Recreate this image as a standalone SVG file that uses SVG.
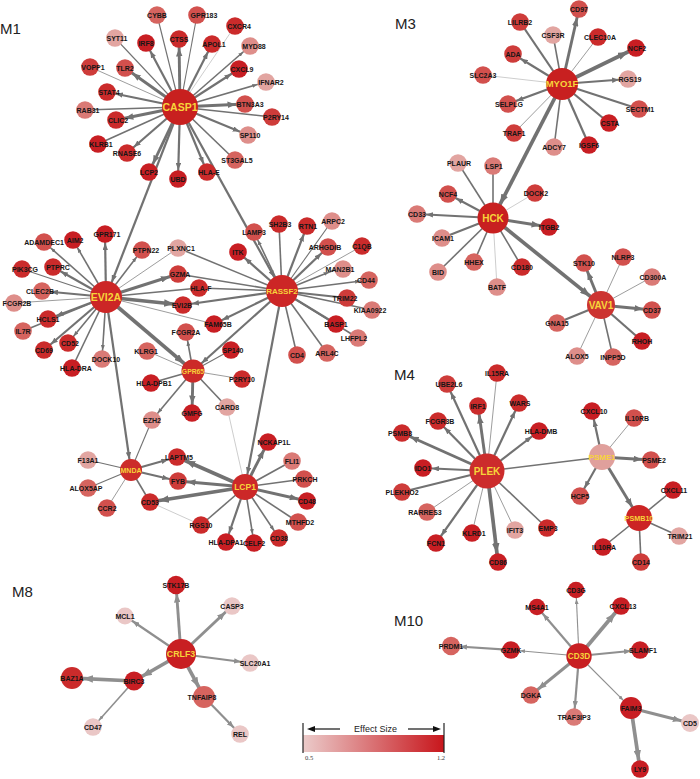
<svg xmlns="http://www.w3.org/2000/svg" width="700" height="779" viewBox="0 0 700 779">
<style>
.e{stroke:#727272;fill:none}
.g{stroke:#8f8f8f}
.lt{stroke:#b8b8b8}
.w1{stroke-width:.7}.w2{stroke-width:1.1}.w3{stroke-width:1.6}.w4{stroke-width:2.2}.w5{stroke-width:2.9}.w6{stroke-width:3.7}
.ma{marker-end:url(#aS)}.mb{marker-end:url(#aM)}.mc{marker-end:url(#aL)}.md{marker-end:url(#aX)}
.na{marker-end:url(#bS)}.nb{marker-end:url(#bM)}.nc{marker-end:url(#bL)}.nd{marker-end:url(#bX)}
.l{font-family:"Liberation Sans",Arial,sans-serif;font-weight:bold;font-size:7px;text-anchor:middle;fill:#161616}
.h{font-family:"Liberation Sans",Arial,sans-serif;font-weight:bold;text-anchor:middle;fill:#f7d43a}
.m{font-family:"Liberation Sans",Arial,sans-serif;font-size:15px;fill:#222}
.c1{fill:#c81e23}.c2{fill:#cb2b2b}.c3{fill:#ce3c3a}.c4{fill:#d2504d}.c5{fill:#d6645f}.c6{fill:#da7a76}.c7{fill:#de8e8a}.c8{fill:#e2a5a1}.c9{fill:#eac7c6}
</style>
<defs>
<marker id="aS" viewBox="0 0 5 4" markerWidth="5" markerHeight="4" refX="14" refY="2" orient="auto" markerUnits="userSpaceOnUse"><path d="M0,0L5,2L0,4z" fill="#727272"/></marker>
<marker id="aM" viewBox="0 0 7 5.4" markerWidth="7" markerHeight="5.4" refX="16" refY="2.7" orient="auto" markerUnits="userSpaceOnUse"><path d="M0,0L7,2.7L0,5.4z" fill="#727272"/></marker>
<marker id="aL" viewBox="0 0 8.5 6.6" markerWidth="8.5" markerHeight="6.6" refX="17.5" refY="3.3" orient="auto" markerUnits="userSpaceOnUse"><path d="M0,0L8.5,3.3L0,6.6z" fill="#727272"/></marker>
<marker id="aX" viewBox="0 0 10 7.6" markerWidth="10" markerHeight="7.6" refX="19" refY="3.8" orient="auto" markerUnits="userSpaceOnUse"><path d="M0,0L10,3.8L0,7.6z" fill="#727272"/></marker>
<marker id="bS" viewBox="0 0 5 4" markerWidth="5" markerHeight="4" refX="14" refY="2" orient="auto" markerUnits="userSpaceOnUse"><path d="M0,0L5,2L0,4z" fill="#8f8f8f"/></marker>
<marker id="bM" viewBox="0 0 7 5.4" markerWidth="7" markerHeight="5.4" refX="16" refY="2.7" orient="auto" markerUnits="userSpaceOnUse"><path d="M0,0L7,2.7L0,5.4z" fill="#8f8f8f"/></marker>
<marker id="bL" viewBox="0 0 8.5 6.6" markerWidth="8.5" markerHeight="6.6" refX="17.5" refY="3.3" orient="auto" markerUnits="userSpaceOnUse"><path d="M0,0L8.5,3.3L0,6.6z" fill="#8f8f8f"/></marker>
<marker id="bX" viewBox="0 0 10 7.6" markerWidth="10" markerHeight="7.6" refX="19" refY="3.8" orient="auto" markerUnits="userSpaceOnUse"><path d="M0,0L10,3.8L0,7.6z" fill="#8f8f8f"/></marker>
<linearGradient id="grad" x1="0" y1="0" x2="1" y2="0"><stop offset="0" stop-color="#ebcbca"/><stop offset="1" stop-color="#c8161c"/></linearGradient>
</defs>
<rect width="700" height="779" fill="#fff"/>
<g id="titles">
<text class="m" x="0" y="34">M1</text>
<text class="m" x="395" y="29">M3</text>
<text class="m" x="394" y="380">M4</text>
<text class="m" x="12" y="597">M8</text>
<text class="m" x="394" y="626">M10</text>
</g>
<g id="connectors">
<!-- CASP1 -->
<line class="e w2" x1="180" y1="107" x2="157" y2="15"/>
<line class="e w2" x1="180" y1="107" x2="197" y2="15"/>
<line class="e lt w1" x1="180" y1="107" x2="235" y2="26"/>
<line class="e w2" x1="180" y1="107" x2="115" y2="38"/>
<line class="e w4 mb" x1="180" y1="107" x2="146" y2="43"/>
<line class="e w5 mc" x1="180" y1="107" x2="179" y2="39"/>
<line class="e w4 mb" x1="180" y1="107" x2="212" y2="44"/>
<line class="e w3 ma" x1="180" y1="107" x2="250" y2="46"/>
<line class="e w1" x1="180" y1="107" x2="90" y2="67"/>
<line class="e w5 mc" x1="180" y1="107" x2="125" y2="68"/>
<line class="e w4 mb" x1="180" y1="107" x2="239" y2="69"/>
<line class="e w3 ma" x1="180" y1="107" x2="266" y2="82"/>
<line class="e w4 mb" x1="180" y1="107" x2="107" y2="92"/>
<line class="e w5 mc" x1="180" y1="107" x2="245" y2="104"/>
<line class="e w3" x1="180" y1="107" x2="85" y2="110"/>
<line class="e w5 mc" x1="180" y1="107" x2="116" y2="120"/>
<line class="e w3" x1="180" y1="107" x2="272" y2="117"/>
<line class="e w4 mb" x1="180" y1="107" x2="248" y2="135"/>
<line class="e w3" x1="180" y1="107" x2="98" y2="144"/>
<line class="e w4 mb" x1="180" y1="107" x2="127" y2="153"/>
<line class="e w3" x1="180" y1="107" x2="235" y2="160"/>
<line class="e w5 mc" x1="180" y1="107" x2="149" y2="172"/>
<line class="e w4 mb" x1="180" y1="107" x2="178" y2="179"/>
<line class="e w4 mb" x1="180" y1="107" x2="207" y2="172"/>
<line class="e w4 mb" x1="180" y1="107" x2="108.5" y2="290.5"/>
<line class="e w4 mb" x1="180" y1="107" x2="278.6" y2="284.9"/>
<!-- EVI2A -->
<line class="e w3 ma" x1="106" y1="297" x2="44" y2="242"/>
<line class="e w3 ma" x1="106" y1="297" x2="73" y2="240"/>
<line class="e w4 mb" x1="106" y1="297" x2="105" y2="234"/>
<line class="e w3 ma" x1="106" y1="297" x2="142" y2="250"/>
<line class="e w1" x1="106" y1="297" x2="178" y2="248"/>
<line class="e w2" x1="106" y1="297" x2="22" y2="269"/>
<line class="e w4 mb" x1="106" y1="297" x2="53" y2="267"/>
<line class="e w5 mc" x1="106" y1="297" x2="178" y2="274"/>
<line class="e w4 mb" x1="106" y1="297" x2="42" y2="291"/>
<line class="e w1" x1="106" y1="297" x2="14" y2="303"/>
<line class="e w3" x1="106" y1="297" x2="199" y2="288"/>
<line class="e w6 md" x1="106" y1="297" x2="183" y2="305"/>
<line class="e w1" x1="106" y1="297" x2="214" y2="324"/>
<line class="e w4 mb" x1="106" y1="297" x2="48" y2="319"/>
<line class="e w3" x1="106" y1="297" x2="23" y2="331"/>
<line class="e w3 ma" x1="106" y1="297" x2="68" y2="343"/>
<line class="e w4 mb" x1="106" y1="297" x2="44" y2="350"/>
<line class="e w3 ma" x1="106" y1="297" x2="102" y2="359"/>
<line class="e w3" x1="106" y1="297" x2="72" y2="368"/>
<line class="e w6 md" x1="106" y1="297" x2="191.1" y2="369.4"/>
<line class="e w4 mb" x1="106" y1="297" x2="130.7" y2="468"/>
<!-- RASSF2 -->
<line class="e w3 ma" x1="282" y1="291" x2="254" y2="232"/>
<line class="e w3" x1="282" y1="291" x2="279" y2="224"/>
<line class="e w4 mb" x1="282" y1="291" x2="307" y2="226"/>
<line class="e w2" x1="282" y1="291" x2="332" y2="221"/>
<line class="e w4 mb" x1="282" y1="291" x2="238" y2="252"/>
<line class="e w4 mb" x1="282" y1="291" x2="328" y2="247"/>
<line class="e w1" x1="282" y1="291" x2="362" y2="246"/>
<line class="e w3 ma" x1="282" y1="291" x2="337" y2="269"/>
<line class="e w3 ma" x1="282" y1="291" x2="369" y2="280"/>
<line class="e w4" x1="282" y1="291" x2="347" y2="298"/>
<line class="e w3" x1="282" y1="291" x2="372" y2="310"/>
<line class="e w4" x1="282" y1="291" x2="336" y2="324"/>
<line class="e w3" x1="282" y1="291" x2="358" y2="338"/>
<line class="e w3" x1="282" y1="291" x2="327" y2="353"/>
<line class="e w3" x1="282" y1="291" x2="297" y2="355"/>
<line class="e w3" x1="282" y1="291" x2="178" y2="248"/>
<line class="e w3" x1="282" y1="291" x2="178" y2="274"/>
<line class="e w3" x1="282" y1="291" x2="199" y2="288"/>
<line class="e w4 mb" x1="282" y1="291" x2="183" y2="305"/>
<line class="e w4 mb" x1="282" y1="291" x2="214" y2="324"/>
<line class="e w4 mb" x1="282" y1="291" x2="194.9" y2="369.3"/>
<line class="e w4 mb" x1="282" y1="291" x2="245.7" y2="483.1"/>
<!-- GPR65 -->
<line class="e w3 ma" x1="193" y1="371" x2="186" y2="332"/>
<line class="e w1" x1="193" y1="371" x2="147" y2="351"/>
<line class="e w2" x1="193" y1="371" x2="231" y2="350"/>
<line class="e w1" x1="193" y1="371" x2="242" y2="379"/>
<line class="e w3" x1="193" y1="371" x2="151" y2="383"/>
<line class="e w5 mc" x1="193" y1="371" x2="192" y2="413"/>
<line class="e w3" x1="193" y1="371" x2="227" y2="407"/>
<line class="e w3 ma" x1="193" y1="371" x2="152" y2="420"/>
<!-- MNDA -->
<line class="e w2" x1="152" y1="420" x2="131" y2="470"/>
<line class="e w2" x1="131" y1="470" x2="88" y2="460"/>
<line class="e w4 mb" x1="131" y1="470" x2="177" y2="457"/>
<line class="e w4 mb" x1="131" y1="470" x2="178" y2="481"/>
<line class="e w2" x1="131" y1="470" x2="88" y2="488"/>
<line class="e w1" x1="131" y1="470" x2="107" y2="508"/>
<line class="e w3" x1="131" y1="470" x2="150" y2="502"/>
<!-- LCP1 -->
<line class="e lt w1" x1="227" y1="407" x2="245" y2="487"/>
<line class="e lt w1" x1="150" y1="502" x2="201" y2="525"/>
<line class="e w6 md" x1="245" y1="487" x2="177" y2="457"/>
<line class="e w5 mc" x1="245" y1="487" x2="178" y2="481"/>
<line class="e w6 md" x1="245" y1="487" x2="150" y2="502"/>
<line class="e w5 mc" x1="245" y1="487" x2="268" y2="442"/>
<line class="e w3" x1="245" y1="487" x2="292" y2="461"/>
<line class="e w3" x1="245" y1="487" x2="304" y2="479"/>
<line class="e w5 mc" x1="245" y1="487" x2="307" y2="501"/>
<line class="e w3" x1="245" y1="487" x2="298" y2="522"/>
<line class="e w3" x1="245" y1="487" x2="201" y2="525"/>
<line class="e w4 mb" x1="245" y1="487" x2="226" y2="542"/>
<line class="e w3 ma" x1="245" y1="487" x2="254" y2="543"/>
<line class="e w3 ma" x1="245" y1="487" x2="279" y2="538"/>
<!-- MYO1F -->
<line class="e w5 mc" x1="562" y1="84" x2="579" y2="9"/>
<line class="e w4" x1="562" y1="84" x2="520" y2="22"/>
<line class="e w3" x1="562" y1="84" x2="553" y2="35"/>
<line class="e w1" x1="562" y1="84" x2="598" y2="37"/>
<line class="e w4 mb" x1="562" y1="84" x2="513" y2="54"/>
<line class="e w6 md" x1="562" y1="84" x2="636" y2="48"/>
<line class="e lt w1" x1="562" y1="84" x2="483" y2="75"/>
<line class="e w4 mb" x1="562" y1="84" x2="628" y2="79"/>
<line class="e w4 mb" x1="562" y1="84" x2="508" y2="104"/>
<line class="e w4" x1="562" y1="84" x2="639" y2="109"/>
<line class="e w4" x1="562" y1="84" x2="609" y2="123"/>
<line class="e w1" x1="562" y1="84" x2="514" y2="133"/>
<line class="e w3" x1="562" y1="84" x2="554" y2="147"/>
<line class="e w4" x1="562" y1="84" x2="589" y2="145"/>
<line class="e w6 md" x1="562" y1="84" x2="496" y2="212.2"/>
<!-- HCK -->
<line class="e w3" x1="493" y1="218" x2="458" y2="163"/>
<line class="e w3" x1="493" y1="218" x2="493" y2="166"/>
<line class="e w4 mb" x1="493" y1="218" x2="448" y2="194"/>
<line class="e lt w1" x1="493" y1="218" x2="535" y2="193"/>
<line class="e w4 mb" x1="493" y1="218" x2="417" y2="214"/>
<line class="e w5 mc" x1="493" y1="218" x2="549" y2="227"/>
<line class="e w4" x1="493" y1="218" x2="442" y2="238"/>
<line class="e w3" x1="493" y1="218" x2="438" y2="272"/>
<line class="e w3" x1="493" y1="218" x2="474" y2="262"/>
<line class="e w3" x1="493" y1="218" x2="522" y2="267"/>
<line class="e lt w1" x1="493" y1="218" x2="497" y2="287"/>
<line class="e w6 md" x1="493" y1="218" x2="597.1" y2="301.9"/>
<!-- VAV1 -->
<line class="e w5 mc" x1="601" y1="305" x2="584" y2="263"/>
<line class="e w1" x1="601" y1="305" x2="623" y2="257"/>
<line class="e w1" x1="601" y1="305" x2="652" y2="277"/>
<line class="e w5 mc" x1="601" y1="305" x2="652" y2="310"/>
<line class="e w4" x1="601" y1="305" x2="557" y2="323"/>
<line class="e w4" x1="601" y1="305" x2="642" y2="341"/>
<line class="e w1" x1="601" y1="305" x2="577" y2="356"/>
<line class="e w3" x1="601" y1="305" x2="613" y2="357"/>
<!-- PLEK -->
<line class="e w1" x1="487" y1="471" x2="497" y2="373"/>
<line class="e w4 mb" x1="487" y1="471" x2="447" y2="384"/>
<line class="e w5 mc" x1="487" y1="471" x2="478" y2="406"/>
<line class="e w4 mb" x1="487" y1="471" x2="519" y2="403"/>
<line class="e w4 mb" x1="487" y1="471" x2="438" y2="421"/>
<line class="e w4 mb" x1="487" y1="471" x2="539" y2="431"/>
<line class="e w5 mc" x1="487" y1="471" x2="402" y2="433"/>
<line class="e w4 mb" x1="487" y1="471" x2="423" y2="468"/>
<line class="e w4" x1="487" y1="471" x2="402" y2="492"/>
<line class="e w1" x1="487" y1="471" x2="427" y2="512"/>
<line class="e w4 mb" x1="487" y1="471" x2="436" y2="543"/>
<line class="e w1" x1="487" y1="471" x2="472" y2="533"/>
<line class="e w1" x1="487" y1="471" x2="515" y2="530"/>
<line class="e w3" x1="487" y1="471" x2="547" y2="528"/>
<line class="e w6 md" x1="487" y1="471" x2="498" y2="562"/>
<line class="e w3" x1="487" y1="471" x2="602" y2="457"/>
<!-- PSME1 -->
<line class="e w4 mb" x1="602" y1="457" x2="592" y2="411"/>
<line class="e w1" x1="602" y1="457" x2="634" y2="418"/>
<line class="e w5 mc" x1="602" y1="457" x2="651" y2="460"/>
<line class="e w4 mb" x1="602" y1="457" x2="580" y2="496"/>
<line class="e w5 mc" x1="602" y1="457" x2="636.9" y2="514.6"/>
<!-- PSMB10 -->
<line class="e w3" x1="639" y1="518" x2="673" y2="490"/>
<line class="e w3" x1="639" y1="518" x2="679" y2="536"/>
<line class="e w3" x1="639" y1="518" x2="603" y2="547"/>
<line class="e w3" x1="639" y1="518" x2="641" y2="562"/>
<!-- CRLF3 -->
<line class="e g w5 nc" x1="181" y1="654" x2="176" y2="585"/>
<line class="e g w5 nc" x1="181" y1="654" x2="232" y2="606"/>
<line class="e g w4 nb" x1="181" y1="654" x2="125" y2="616"/>
<line class="e g w4 nb" x1="181" y1="654" x2="250" y2="663"/>
<line class="e g w6 nd" x1="181" y1="654" x2="134" y2="681"/>
<line class="e g w6 nd" x1="181" y1="654" x2="203.1" y2="695.2"/>
<line class="e g w6 nd" x1="134" y1="681" x2="74" y2="678.1"/>
<line class="e g w3 na" x1="134" y1="681" x2="93" y2="727"/>
<line class="e g w4 nb" x1="204" y1="697" x2="240" y2="734"/>
<!-- CD3D -->
<line class="e g w2 na" x1="579" y1="656" x2="576" y2="590"/>
<line class="e g w4 nb" x1="579" y1="656" x2="537" y2="607"/>
<line class="e g w6 nd" x1="579" y1="656" x2="621" y2="606"/>
<line class="e g w4 nb" x1="579" y1="656" x2="640" y2="650"/>
<line class="e g w2 na" x1="579" y1="656" x2="511" y2="650"/>
<line class="e g w4 nb" x1="511" y1="650" x2="451" y2="646"/>
<line class="e g w5 nc" x1="579" y1="656" x2="531" y2="695"/>
<line class="e g w4 nb" x1="579" y1="656" x2="574" y2="717"/>
<line class="e g w2 na" x1="579" y1="656" x2="629.6" y2="706.6"/>
<line class="e g w5 nc" x1="631" y1="708" x2="690" y2="723"/>
<line class="e g w6 nd" x1="631" y1="708" x2="640" y2="769"/>
</g>
<g id="nodes">
<g id="n-CASP1"><circle cx="180" cy="107" r="18" fill="#c8201f"/><text class="h" x="180" y="110.8" font-size="10.5">CASP1</text></g>
<g id="n-CYBB"><circle class="c5" cx="157" cy="15" r="8.8"/><text class="l" x="157" y="17.5">CYBB</text></g>
<g id="n-GPR183"><circle class="c4" cx="197" cy="15" r="8.8"/><text class="l" x="204" y="17.5">GPR183</text></g>
<g id="n-CXCR4"><circle class="c2" cx="235" cy="26" r="8.8"/><text class="l" x="239" y="28.5">CXCR4</text></g>
<g id="n-SYT11"><circle class="c8" cx="115" cy="38" r="8.8"/><text class="l" x="117" y="40.5">SYT11</text></g>
<g id="n-IRF8"><circle class="c1" cx="146" cy="43" r="8.8"/><text class="l" x="146" y="45.5">IRF8</text></g>
<g id="n-CTSS"><circle class="c2" cx="179" cy="39" r="8.8"/><text class="l" x="179" y="41.5">CTSS</text></g>
<g id="n-APOL1"><circle class="c2" cx="212" cy="44" r="8.8"/><text class="l" x="214" y="46.5">APOL1</text></g>
<g id="n-MYD88"><circle class="c7" cx="250" cy="46" r="8.8"/><text class="l" x="254" y="48.5">MYD88</text></g>
<g id="n-VOPP1"><circle class="c3" cx="90" cy="67" r="8.8"/><text class="l" x="93" y="69.5">VOPP1</text></g>
<g id="n-TLR2"><circle class="c4" cx="125" cy="68" r="8.8"/><text class="l" x="125" y="70.5">TLR2</text></g>
<g id="n-CXCL9"><circle class="c1" cx="239" cy="69" r="8.8"/><text class="l" x="242" y="71.5">CXCL9</text></g>
<g id="n-IFNAR2"><circle class="c8" cx="266" cy="82" r="8.8"/><text class="l" x="271" y="84.5">IFNAR2</text></g>
<g id="n-STAT4"><circle class="c2" cx="107" cy="92" r="8.8"/><text class="l" x="109" y="94.5">STAT4</text></g>
<g id="n-BTN3A3"><circle class="c4" cx="245" cy="104" r="8.8"/><text class="l" x="250" y="106.5">BTN3A3</text></g>
<g id="n-RAB31"><circle class="c6" cx="85" cy="110" r="8.8"/><text class="l" x="88" y="112.5">RAB31</text></g>
<g id="n-CLIC2"><circle class="c2" cx="116" cy="120" r="8.8"/><text class="l" x="118" y="122.5">CLIC2</text></g>
<g id="n-P2RY14"><circle class="c3" cx="272" cy="117" r="8.8"/><text class="l" x="276" y="119.5">P2RY14</text></g>
<g id="n-SP110"><circle class="c7" cx="248" cy="135" r="8.8"/><text class="l" x="250" y="137.5">SP110</text></g>
<g id="n-KLRB1"><circle class="c1" cx="98" cy="144" r="8.8"/><text class="l" x="101" y="146.5">KLRB1</text></g>
<g id="n-RNASE6"><circle class="c2" cx="127" cy="153" r="8.8"/><text class="l" x="127" y="155.5">RNASE6</text></g>
<g id="n-ST3GAL5"><circle class="c5" cx="235" cy="160" r="8.8"/><text class="l" x="237" y="162.5">ST3GAL5</text></g>
<g id="n-LCP2"><circle class="c1" cx="149" cy="172" r="8.8"/><text class="l" x="149" y="174.5">LCP2</text></g>
<g id="n-UBD"><circle class="c1" cx="178" cy="179" r="8.8"/><text class="l" x="178" y="181.5">UBD</text></g>
<g id="n-HLA-E"><circle class="c2" cx="207" cy="172" r="8.8"/><text class="l" x="209" y="174.5">HLA-E</text></g>

<g id="n-EVI2A"><circle cx="106" cy="297" r="16" fill="#cc2626"/><text class="h" x="106" y="300.8" font-size="10.5">EVI2A</text></g>
<g id="n-RASSF2"><circle cx="282" cy="291" r="16" fill="#cc2626"/><text class="h" x="282" y="293.9" font-size="8">RASSF2</text></g>
<g id="n-GPR65"><circle cx="193" cy="371" r="11.5" fill="#cc2a28"/><text class="h" x="193" y="373.5" font-size="6.8">GPR65</text></g>
<g id="n-MNDA"><circle cx="131" cy="470" r="11" fill="#cc2c2a"/><text class="h" x="131" y="472.5" font-size="7">MNDA</text></g>
<g id="n-LCP1"><circle cx="245" cy="487" r="13" fill="#cc2828"/><text class="h" x="245" y="490.1" font-size="8.5">LCP1</text></g>

<g id="n-ADAMDEC1"><circle class="c4" cx="44" cy="242" r="8.8"/><text class="l" x="44" y="244.5">ADAMDEC1</text></g>
<g id="n-AIM2"><circle class="c1" cx="73" cy="240" r="8.8"/><text class="l" x="75" y="242.5">AIM2</text></g>
<g id="n-GPR171"><circle class="c1" cx="105" cy="234" r="8.8"/><text class="l" x="107" y="236.5">GPR171</text></g>
<g id="n-PTPN22"><circle class="c4" cx="142" cy="250" r="8.8"/><text class="l" x="146" y="252.5">PTPN22</text></g>
<g id="n-PLXNC1"><circle class="c8" cx="178" cy="248" r="8.8"/><text class="l" x="181" y="250.5">PLXNC1</text></g>
<g id="n-PIK3CG"><circle class="c2" cx="22" cy="269" r="8.8"/><text class="l" x="25" y="271.5">PIK3CG</text></g>
<g id="n-PTPRC"><circle class="c2" cx="53" cy="267" r="8.8"/><text class="l" x="58" y="269.5">PTPRC</text></g>
<g id="n-GZMA"><circle class="c3" cx="178" cy="274" r="8.8"/><text class="l" x="180" y="276.5">GZMA</text></g>
<g id="n-CLEC2B"><circle class="c5" cx="42" cy="291" r="8.8"/><text class="l" x="40" y="293.5">CLEC2B</text></g>
<g id="n-FCGR2B"><circle class="c7" cx="14" cy="303" r="8.8"/><text class="l" x="17" y="305.5">FCGR2B</text></g>
<g id="n-HLA-F"><circle class="c2" cx="199" cy="288" r="8.8"/><text class="l" x="201" y="290.5">HLA-F</text></g>
<g id="n-EVI2B"><circle class="c2" cx="183" cy="305" r="8.8"/><text class="l" x="182" y="307.5">EVI2B</text></g>
<g id="n-FAM65B"><circle class="c1" cx="214" cy="324" r="8.8"/><text class="l" x="218" y="326.5">FAM65B</text></g>
<g id="n-HCLS1"><circle class="c2" cx="48" cy="319" r="8.8"/><text class="l" x="48" y="321.5">HCLS1</text></g>
<g id="n-IL7R"><circle class="c5" cx="23" cy="331" r="8.8"/><text class="l" x="23" y="333.5">IL7R</text></g>
<g id="n-CD52"><circle class="c2" cx="68" cy="343" r="8.8"/><text class="l" x="70" y="345.5">CD52</text></g>
<g id="n-CD69"><circle class="c2" cx="44" cy="350" r="8.8"/><text class="l" x="44" y="352.5">CD69</text></g>
<g id="n-DOCK10"><circle class="c6" cx="102" cy="359" r="8.8"/><text class="l" x="106" y="361.5">DOCK10</text></g>
<g id="n-HLA-DRA"><circle class="c1" cx="72" cy="368" r="8.8"/><text class="l" x="76" y="370.5">HLA-DRA</text></g>

<g id="n-LAMP3"><circle class="c4" cx="254" cy="232" r="8.8"/><text class="l" x="254" y="234.5">LAMP3</text></g>
<g id="n-SH2B3"><circle class="c2" cx="279" cy="224" r="8.8"/><text class="l" x="280" y="226.5">SH2B3</text></g>
<g id="n-RTN1"><circle class="c2" cx="307" cy="226" r="8.8"/><text class="l" x="308" y="228.5">RTN1</text></g>
<g id="n-ARPC2"><circle class="c7" cx="332" cy="221" r="8.8"/><text class="l" x="333" y="223.5">ARPC2</text></g>
<g id="n-ITK"><circle class="c1" cx="238" cy="252" r="8.8"/><text class="l" x="238" y="254.5">ITK</text></g>
<g id="n-ARHGDIB"><circle class="c4" cx="328" cy="247" r="8.8"/><text class="l" x="325" y="249.5">ARHGDIB</text></g>
<g id="n-C1QB"><circle class="c2" cx="362" cy="246" r="8.8"/><text class="l" x="362" y="248.5">C1QB</text></g>
<g id="n-MAN2B1"><circle class="c7" cx="343" cy="269" r="8.8"/><text class="l" x="340" y="271.5">MAN2B1</text></g>
<g id="n-CD44"><circle class="c5" cx="369" cy="280" r="8.8"/><text class="l" x="366" y="282.5">CD44</text></g>
<g id="n-TRIM22"><circle class="c3" cx="347" cy="298" r="8.8"/><text class="l" x="345" y="300.5">TRIM22</text></g>
<g id="n-KIAA0922"><circle class="c6" cx="372" cy="310" r="8.8"/><text class="l" x="370" y="312.5">KIAA0922</text></g>
<g id="n-BASP1"><circle class="c1" cx="336" cy="324" r="8.8"/><text class="l" x="336" y="326.5">BASP1</text></g>
<g id="n-LHFPL2"><circle class="c6" cx="358" cy="338" r="8.8"/><text class="l" x="354" y="340.5">LHFPL2</text></g>
<g id="n-ARL4C"><circle class="c5" cx="327" cy="353" r="8.8"/><text class="l" x="327" y="355.5">ARL4C</text></g>
<g id="n-CD4"><circle class="c4" cx="297" cy="355" r="8.8"/><text class="l" x="297" y="357.5">CD4</text></g>

<g id="n-FCGR2A"><circle class="c4" cx="186" cy="332" r="8.8"/><text class="l" x="186" y="334.5">FCGR2A</text></g>
<g id="n-KLRG1"><circle class="c5" cx="147" cy="351" r="8.8"/><text class="l" x="146" y="353.5">KLRG1</text></g>
<g id="n-SP140"><circle class="c1" cx="231" cy="350" r="8.8"/><text class="l" x="233" y="352.5">SP140</text></g>
<g id="n-P2RY10"><circle class="c2" cx="242" cy="379" r="8.8"/><text class="l" x="242" y="381.5">P2RY10</text></g>
<g id="n-HLA-DPB1"><circle class="c1" cx="151" cy="383" r="8.8"/><text class="l" x="154" y="385.5">HLA-DPB1</text></g>
<g id="n-GMFG"><circle class="c1" cx="192" cy="413" r="8.8"/><text class="l" x="192" y="415.5">GMFG</text></g>
<g id="n-CARD8"><circle class="c8" cx="227" cy="407" r="8.8"/><text class="l" x="227" y="409.5">CARD8</text></g>
<g id="n-EZH2"><circle class="c7" cx="152" cy="420" r="8.8"/><text class="l" x="152" y="422.5">EZH2</text></g>

<g id="n-F13A1"><circle class="c8" cx="88" cy="460" r="8.8"/><text class="l" x="88" y="462.5">F13A1</text></g>
<g id="n-LAPTM5"><circle class="c2" cx="177" cy="457" r="8.8"/><text class="l" x="179" y="459.5">LAPTM5</text></g>
<g id="n-FYB"><circle class="c3" cx="178" cy="481" r="8.8"/><text class="l" x="178" y="483.5">FYB</text></g>
<g id="n-ALOX5AP"><circle class="c5" cx="88" cy="488" r="8.8"/><text class="l" x="86" y="490.5">ALOX5AP</text></g>
<g id="n-CCR2"><circle class="c4" cx="107" cy="508" r="8.8"/><text class="l" x="107" y="510.5">CCR2</text></g>
<g id="n-CD53"><circle class="c2" cx="150" cy="502" r="8.8"/><text class="l" x="150" y="504.5">CD53</text></g>

<g id="n-NCKAP1L"><circle class="c1" cx="268" cy="442" r="8.8"/><text class="l" x="274" y="444.5">NCKAP1L</text></g>
<g id="n-FLI1"><circle class="c6" cx="292" cy="461" r="8.8"/><text class="l" x="292" y="463.5">FLI1</text></g>
<g id="n-PRKCH"><circle class="c4" cx="304" cy="479" r="8.8"/><text class="l" x="305" y="481.5">PRKCH</text></g>
<g id="n-CD48"><circle class="c1" cx="307" cy="501" r="8.8"/><text class="l" x="307" y="503.5">CD48</text></g>
<g id="n-MTHFD2"><circle class="c4" cx="298" cy="522" r="8.8"/><text class="l" x="300" y="524.5">MTHFD2</text></g>
<g id="n-RGS10"><circle class="c2" cx="201" cy="525" r="8.8"/><text class="l" x="201" y="527.5">RGS10</text></g>
<g id="n-CD38"><circle class="c2" cx="279" cy="538" r="8.8"/><text class="l" x="279" y="540.5">CD38</text></g>
<g id="n-HLA-DPA1"><circle class="c1" cx="226" cy="542" r="8.8"/><text class="l" x="226" y="544.5">HLA-DPA1</text></g>
<g id="n-CELF2"><circle class="c1" cx="254" cy="543" r="8.8"/><text class="l" x="254" y="545.5">CELF2</text></g>

<g id="n-MYO1F"><circle cx="562" cy="84" r="16" fill="#c82020"/><text class="h" x="562" y="87.4" font-size="9.5">MYO1F</text></g>
<g id="n-CD97"><circle class="c4" cx="579" cy="9" r="8.8"/><text class="l" x="579" y="11.5">CD97</text></g>
<g id="n-LILRB2"><circle class="c3" cx="520" cy="22" r="8.8"/><text class="l" x="520" y="24.5">LILRB2</text></g>
<g id="n-CSF3R"><circle class="c8" cx="553" cy="35" r="8.8"/><text class="l" x="553" y="37.5">CSF3R</text></g>
<g id="n-CLEC10A"><circle class="c2" cx="598" cy="37" r="8.8"/><text class="l" x="600" y="39.5">CLEC10A</text></g>
<g id="n-ADA"><circle class="c3" cx="513" cy="54" r="8.8"/><text class="l" x="513" y="56.5">ADA</text></g>
<g id="n-NCF2"><circle class="c1" cx="636" cy="48" r="8.8"/><text class="l" x="637" y="50.5">NCF2</text></g>
<g id="n-SLC2A3"><circle class="c4" cx="483" cy="75" r="8.8"/><text class="l" x="483" y="77.5">SLC2A3</text></g>
<g id="n-RGS19"><circle class="c8" cx="628" cy="79" r="8.8"/><text class="l" x="630" y="81.5">RGS19</text></g>
<g id="n-SELPLG"><circle class="c4" cx="508" cy="104" r="8.8"/><text class="l" x="509" y="106.5">SELPLG</text></g>
<g id="n-SECTM1"><circle class="c4" cx="639" cy="109" r="8.8"/><text class="l" x="640" y="111.5">SECTM1</text></g>
<g id="n-CSTA"><circle class="c1" cx="609" cy="123" r="8.8"/><text class="l" x="610" y="125.5">CSTA</text></g>
<g id="n-TRAF1"><circle class="c3" cx="514" cy="133" r="8.8"/><text class="l" x="514" y="135.5">TRAF1</text></g>
<g id="n-ADCY7"><circle class="c7" cx="554" cy="147" r="8.8"/><text class="l" x="554" y="149.5">ADCY7</text></g>
<g id="n-IGSF6"><circle class="c1" cx="589" cy="145" r="8.8"/><text class="l" x="589" y="147.5">IGSF6</text></g>

<g id="n-HCK"><circle cx="493" cy="218" r="15.5" fill="#c82020"/><text class="h" x="493" y="221.6" font-size="10">HCK</text></g>
<g id="n-PLAUR"><circle class="c8" cx="458" cy="163" r="8.8"/><text class="l" x="459" y="165.5">PLAUR</text></g>
<g id="n-LSP1"><circle class="c6" cx="493" cy="166" r="8.8"/><text class="l" x="494" y="168.5">LSP1</text></g>
<g id="n-NCF4"><circle class="c4" cx="448" cy="194" r="8.8"/><text class="l" x="448" y="196.5">NCF4</text></g>
<g id="n-DOCK2"><circle class="c3" cx="535" cy="193" r="8.8"/><text class="l" x="536" y="195.5">DOCK2</text></g>
<g id="n-CD33"><circle class="c6" cx="417" cy="214" r="8.8"/><text class="l" x="417" y="216.5">CD33</text></g>
<g id="n-ITGB2"><circle class="c1" cx="549" cy="227" r="8.8"/><text class="l" x="549" y="229.5">ITGB2</text></g>
<g id="n-ICAM1"><circle class="c7" cx="442" cy="238" r="8.8"/><text class="l" x="443" y="240.5">ICAM1</text></g>
<g id="n-BID"><circle class="c7" cx="438" cy="272" r="8.8"/><text class="l" x="438" y="274.5">BID</text></g>
<g id="n-HHEX"><circle class="c5" cx="474" cy="262" r="8.8"/><text class="l" x="474" y="264.5">HHEX</text></g>
<g id="n-CD180"><circle class="c2" cx="522" cy="267" r="8.8"/><text class="l" x="522" y="269.5">CD180</text></g>
<g id="n-BATF"><circle class="c7" cx="497" cy="287" r="8.8"/><text class="l" x="497" y="289.5">BATF</text></g>

<g id="n-VAV1"><circle cx="601" cy="305" r="14" fill="#cc3431"/><text class="h" x="601" y="308.6" font-size="10">VAV1</text></g>
<g id="n-STK10"><circle class="c4" cx="584" cy="263" r="8.8"/><text class="l" x="584" y="265.5">STK10</text></g>
<g id="n-NLRP3"><circle class="c4" cx="623" cy="257" r="8.8"/><text class="l" x="623" y="259.5">NLRP3</text></g>
<g id="n-CD300A"><circle class="c6" cx="652" cy="277" r="8.8"/><text class="l" x="653" y="279.5">CD300A</text></g>
<g id="n-CD37"><circle class="c4" cx="652" cy="310" r="8.8"/><text class="l" x="652" y="312.5">CD37</text></g>
<g id="n-GNA15"><circle class="c5" cx="557" cy="323" r="8.8"/><text class="l" x="557" y="325.5">GNA15</text></g>
<g id="n-RHOH"><circle class="c1" cx="642" cy="341" r="8.8"/><text class="l" x="642" y="343.5">RHOH</text></g>
<g id="n-ALOX5"><circle class="c7" cx="577" cy="356" r="8.8"/><text class="l" x="577" y="358.5">ALOX5</text></g>
<g id="n-INPP5D"><circle class="c5" cx="613" cy="357" r="8.8"/><text class="l" x="613" y="359.5">INPP5D</text></g>

<g id="n-PLEK"><circle cx="487" cy="471" r="17.5" fill="#cc2c2c"/><text class="h" x="487" y="474.6" font-size="10">PLEK</text></g>
<g id="n-IL15RA"><circle class="c2" cx="497" cy="373" r="8.8"/><text class="l" x="497" y="375.5">IL15RA</text></g>
<g id="n-UBE2L6"><circle class="c3" cx="447" cy="384" r="8.8"/><text class="l" x="449" y="386.5">UBE2L6</text></g>
<g id="n-IRF1"><circle class="c2" cx="478" cy="406" r="8.8"/><text class="l" x="478" y="408.5">IRF1</text></g>
<g id="n-WARS"><circle class="c2" cx="519" cy="403" r="8.8"/><text class="l" x="520" y="405.5">WARS</text></g>
<g id="n-FCGR3B"><circle class="c2" cx="438" cy="421" r="8.8"/><text class="l" x="440" y="423.5">FCGR3B</text></g>
<g id="n-HLA-DMB"><circle class="c1" cx="539" cy="431" r="8.8"/><text class="l" x="541" y="433.5">HLA-DMB</text></g>
<g id="n-PSMB8"><circle class="c2" cx="402" cy="433" r="8.8"/><text class="l" x="400" y="435.5">PSMB8</text></g>
<g id="n-IDO1"><circle class="c1" cx="423" cy="468" r="8.8"/><text class="l" x="423" y="470.5">IDO1</text></g>
<g id="n-PLEKHO2"><circle class="c3" cx="402" cy="492" r="8.8"/><text class="l" x="402" y="494.5">PLEKHO2</text></g>
<g id="n-RARRES3"><circle class="c5" cx="427" cy="512" r="8.8"/><text class="l" x="425" y="514.5">RARRES3</text></g>
<g id="n-FCN1"><circle class="c1" cx="436" cy="543" r="8.8"/><text class="l" x="436" y="545.5">FCN1</text></g>
<g id="n-KLRD1"><circle class="c1" cx="472" cy="533" r="8.8"/><text class="l" x="474" y="535.5">KLRD1</text></g>
<g id="n-IFIT3"><circle class="c8" cx="515" cy="530" r="8.8"/><text class="l" x="515" y="532.5">IFIT3</text></g>
<g id="n-EMP3"><circle class="c2" cx="547" cy="528" r="8.8"/><text class="l" x="548" y="530.5">EMP3</text></g>
<g id="n-CD86"><circle class="c1" cx="498" cy="562" r="8.8"/><text class="l" x="498" y="564.5">CD86</text></g>

<g id="n-PSME1"><circle cx="602" cy="457" r="13" fill="#e0a09c"/><text class="h" x="602" y="459.9" font-size="8">PSME1</text></g>
<g id="n-CXCL10"><circle class="c1" cx="592" cy="411" r="8.8"/><text class="l" x="594" y="413.5">CXCL10</text></g>
<g id="n-IL10RB"><circle class="c4" cx="634" cy="418" r="8.8"/><text class="l" x="637" y="420.5">IL10RB</text></g>
<g id="n-PSME2"><circle class="c4" cx="651" cy="460" r="8.8"/><text class="l" x="654" y="462.5">PSME2</text></g>
<g id="n-HCP5"><circle class="c4" cx="580" cy="496" r="8.8"/><text class="l" x="580" y="498.5">HCP5</text></g>
<g id="n-PSMB10"><circle cx="639" cy="518" r="13" fill="#cc2424"/><text class="h" x="639" y="520.6" font-size="7.2">PSMB10</text></g>
<g id="n-CXCL11"><circle class="c1" cx="673" cy="490" r="8.8"/><text class="l" x="674" y="492.5">CXCL11</text></g>
<g id="n-TRIM21"><circle class="c8" cx="679" cy="536" r="8.8"/><text class="l" x="680" y="538.5">TRIM21</text></g>
<g id="n-IL10RA"><circle class="c1" cx="603" cy="547" r="8.8"/><text class="l" x="604" y="549.5">IL10RA</text></g>
<g id="n-CD14"><circle class="c3" cx="641" cy="562" r="8.8"/><text class="l" x="641" y="564.5">CD14</text></g>

<g id="n-CRLF3"><circle cx="181" cy="654" r="15" fill="#c81f22"/><text class="h" x="181" y="657.2" font-size="8.8">CRLF3</text></g>
<g id="n-STK17B"><circle class="c1" cx="176" cy="585" r="9.2"/><text class="l" x="176" y="587.5">STK17B</text></g>
<g id="n-CASP3"><circle class="c9" cx="232" cy="606" r="8.8"/><text class="l" x="232" y="608.5">CASP3</text></g>
<g id="n-MCL1"><circle class="c9" cx="125" cy="616" r="8.5"/><text class="l" x="125" y="618.5">MCL1</text></g>
<g id="n-SLC20A1"><circle class="c9" cx="250" cy="663" r="8.8"/><text class="l" x="255" y="665.5">SLC20A1</text></g>
<g id="n-BAZ1A"><circle class="c2" cx="72" cy="678" r="11"/><text class="l" x="72" y="680.5">BAZ1A</text></g>
<g id="n-BIRC3"><circle class="c1" cx="134" cy="681" r="9.5"/><text class="l" x="134" y="683.5">BIRC3</text></g>
<g id="n-TNFAIP8"><circle class="c5" cx="204" cy="697" r="11"/><text class="l" x="202" y="699.5">TNFAIP8</text></g>
<g id="n-CD47"><circle class="c9" cx="93" cy="727" r="8.8"/><text class="l" x="93" y="729.5">CD47</text></g>
<g id="n-REL"><circle class="c9" cx="240" cy="734" r="8.8"/><text class="l" x="240" y="736.5">REL</text></g>

<g id="n-CD3D"><circle cx="579" cy="656" r="12.7" fill="#c81f22"/><text class="h" x="579" y="659" font-size="8.2">CD3D</text></g>
<g id="n-CD3G"><circle class="c1" cx="576" cy="590" r="8.3"/><text class="l" x="576" y="592.5">CD3G</text></g>
<g id="n-MS4A1"><circle class="c1" cx="537" cy="607" r="8.3"/><text class="l" x="537" y="609.5">MS4A1</text></g>
<g id="n-CXCL13"><circle class="c1" cx="621" cy="606" r="8.8"/><text class="l" x="623" y="608.5">CXCL13</text></g>
<g id="n-PRDM1"><circle class="c5" cx="451" cy="646" r="9.2"/><text class="l" x="451" y="648.5">PRDM1</text></g>
<g id="n-GZMK"><circle class="c1" cx="511" cy="650" r="8.8"/><text class="l" x="511" y="652.5">GZMK</text></g>
<g id="n-SLAMF1"><circle class="c1" cx="640" cy="650" r="8.8"/><text class="l" x="643" y="652.5">SLAMF1</text></g>
<g id="n-DGKA"><circle class="c5" cx="531" cy="695" r="8.8"/><text class="l" x="531" y="697.5">DGKA</text></g>
<g id="n-TRAF3IP3"><circle class="c6" cx="574" cy="717" r="8.8"/><text class="l" x="574" y="719.5">TRAF3IP3</text></g>
<g id="n-FAIM3"><circle class="c1" cx="631" cy="708" r="11"/><text class="l" x="631" y="710.5">FAIM3</text></g>
<g id="n-CD5"><circle class="c9" cx="690" cy="723" r="9"/><text class="l" x="690" y="725.5">CD5</text></g>
<g id="n-LY9"><circle class="c1" cx="640" cy="769" r="8.8"/><text class="l" x="640" y="771.5">LY9</text></g>
</g>
<g id="legend">
<rect x="303" y="735" width="141" height="17" fill="url(#grad)"/>
<line x1="303" y1="723" x2="303" y2="753" stroke="#222" stroke-width="1.2"/>
<line x1="444" y1="723" x2="444" y2="753" stroke="#222" stroke-width="1.2"/>
<line x1="340" y1="729" x2="313" y2="729" stroke="#111" stroke-width="1.2"/>
<path d="M307,729L315,726L315,732z" fill="#111"/>
<line x1="408" y1="729" x2="435" y2="729" stroke="#111" stroke-width="1.2"/>
<path d="M441,729L433,726L433,732z" fill="#111"/>
<text x="375.5" y="732" font-family="Liberation Sans, Arial, sans-serif" font-size="9" text-anchor="middle" fill="#222">Effect Size</text>
<text x="305" y="760" font-family="Liberation Serif, Times New Roman, serif" font-size="6.5" fill="#333">0.5</text>
<text x="445" y="760" font-family="Liberation Serif, Times New Roman, serif" font-size="6.5" text-anchor="end" fill="#333">1.2</text>
</g>
</svg>
